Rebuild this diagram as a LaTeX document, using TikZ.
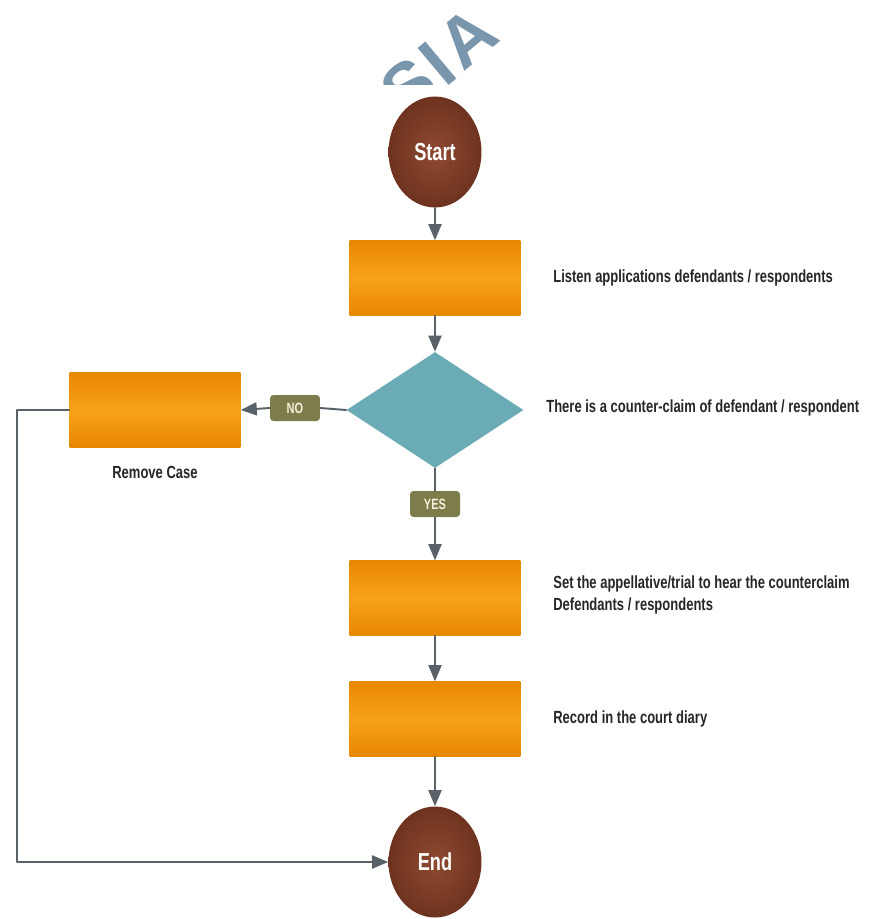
\documentclass[tikz,border=0pt]{standalone}
\usepackage{fontspec}
\setmainfont[FakeStretch=0.74]{Liberation Sans}
\newfontfamily\markfont[LetterSpace=6]{Liberation Sans}
\usetikzlibrary{arrows,shapes.geometric}
\definecolor{wmblue}{rgb}{0.48,0.59,0.68}
\definecolor{brownin}{rgb}{0.56,0.29,0.19}
\definecolor{brownout}{rgb}{0.43,0.2,0.12}
\definecolor{orngfill}{rgb}{0.97,0.63,0.1}
\definecolor{orngdark}{rgb}{0.91,0.53,0.0}
\definecolor{tealfill}{rgb}{0.42,0.67,0.71}
\definecolor{olivefill}{rgb}{0.49,0.49,0.3}
\definecolor{creamtext}{rgb}{0.96,0.94,0.86}
\definecolor{linegray}{rgb}{0.35,0.38,0.41}
\definecolor{darktext}{rgb}{0.15,0.15,0.15}
\tikzset{
  terminal/.style={ellipse,minimum width=1.86cm,minimum height=2.22cm,inner sep=0pt,
    shading=radial,inner color=brownin,outer color=brownout,text=white,
    font=\fontsize{14}{14}\selectfont\bfseries},
  process/.style={rectangle,minimum width=3.42cm,minimum height=1.5cm,inner sep=0pt,
    top color=orngdark,bottom color=orngdark,middle color=orngfill},
  decision/.style={diamond,minimum width=3.54cm,minimum height=2.32cm,inner sep=0pt,fill=tealfill},
  answer/.style={rectangle,rounded corners=2pt,fill=olivefill,text=creamtext,
    minimum width=1cm,minimum height=0.52cm,inner sep=0pt,font=\fontsize{8.5}{8.5}\selectfont\bfseries},
  note/.style={anchor=west,inner sep=0pt,align=left,text=darktext,
    font=\fontsize{10}{13}\selectfont\bfseries},
  flow/.style={color=linegray,line width=1.1pt}
}
\begin{document}
\begin{tikzpicture}[line cap=round,line join=round,>=triangle 45,x=0.02cm,y=-0.02cm]
\useasboundingbox (0,0) rectangle (874,919);
% watermark
\begin{scope}
\clip (300,0) rectangle (600,85);
\node[rotate=40,inner sep=0pt,text=wmblue,font=\markfont\fontsize{40}{40}\selectfont\bfseries] (mark) at (439,62) {SIA};
\end{scope}
% shapes
\node[terminal] (start) at (435,152) {Start};
\node[process] (listen) at (435,278) {};
\node[decision] (claim) at (435,410) {};
\node[process] (remove) at (155,410) {};
\node[process] (hear) at (435,598) {};
\node[process] (diary) at (435,719) {};
\node[terminal] (end) at (435,862) {End};
\node[answer] (no) at (295,408) {NO};
\node[answer] (yes) at (435,504) {YES};
\coordinate (corner) at (17,862);
% texts
\node[note] (t1) at (553,278) {Listen applications defendants / respondents};
\node[note] (t2) at (546,408) {There is a counter-claim of defendant / respondent};
\node[note] (t3) at (553,595) {Set the appellative/trial to hear the counterclaim\\Defendants / respondents};
\node[note] (t4) at (553,719) {Record in the court diary};
\node[note,anchor=center] (t5) at (155,472) {Remove Case};
% connectors
\draw[flow,->] (start) -- (listen);
\draw[flow,->] (listen) -- (claim);
\draw[flow] (claim.west) -- (no.east);
\draw[flow,->] (no.west) -- (remove.east);
\draw[flow] (claim.south) -- (yes.north);
\draw[flow,->] (yes.south) -- (hear.north);
\draw[flow,->] (hear) -- (diary);
\draw[flow,->] (diary) -- (end);
\draw[flow,->] (remove.west) -| (corner) -- (end.west);
\end{tikzpicture}
\end{document}
